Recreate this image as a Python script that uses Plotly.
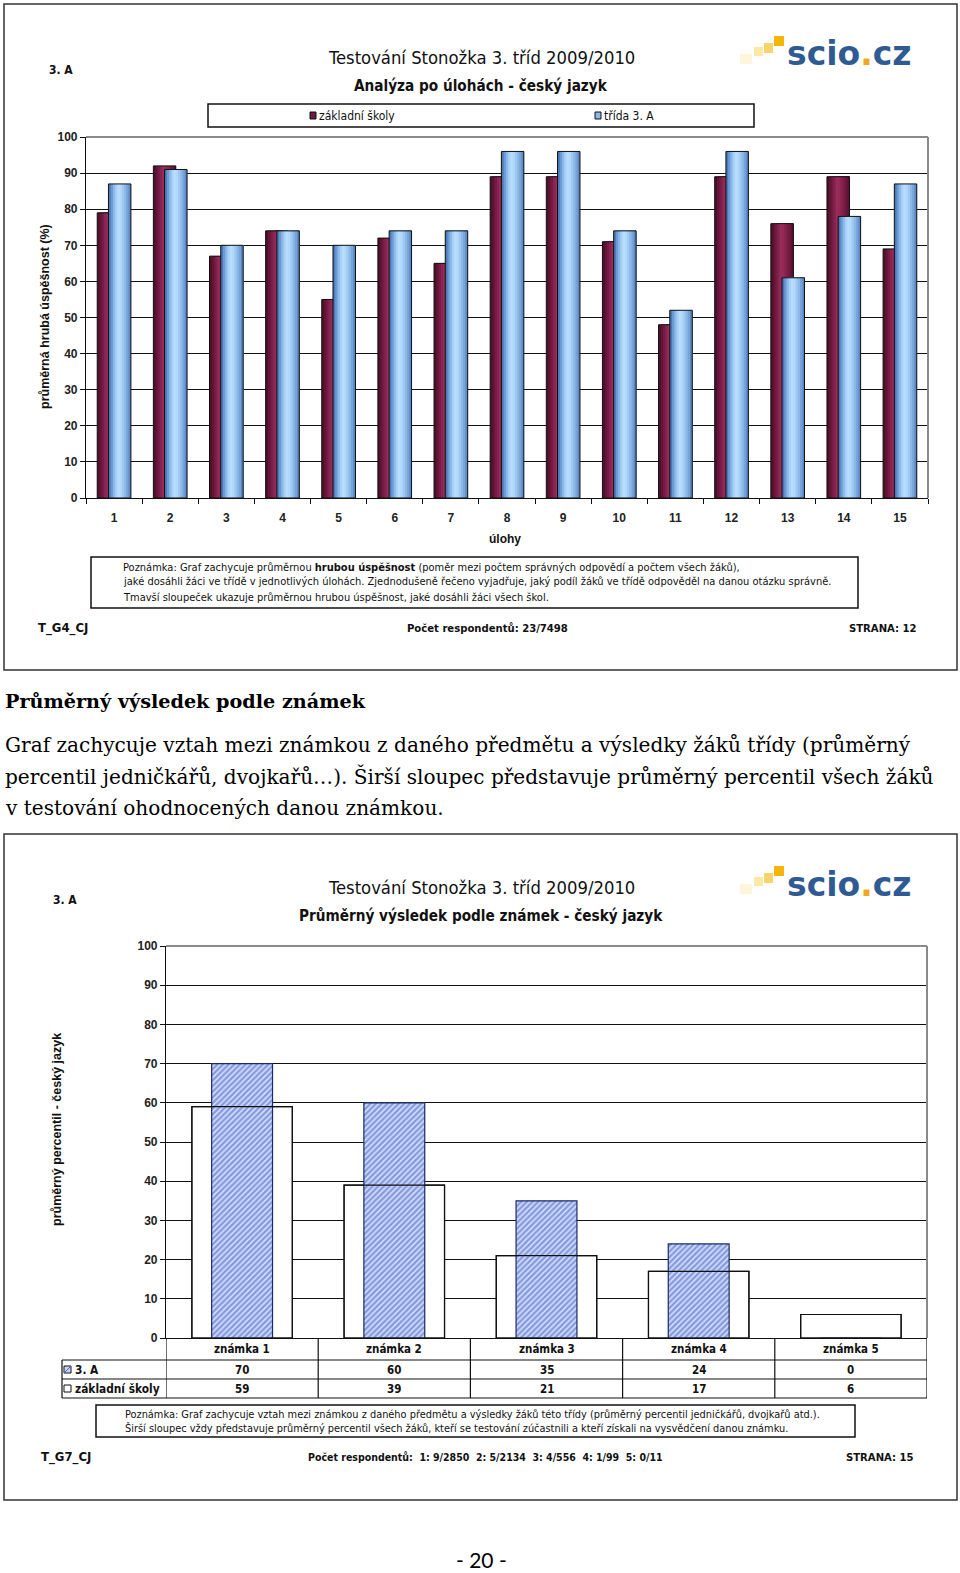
import plotly.graph_objects as go

W, H = 960, 1573


def X(px):
    return px / W


def Y(py):
    return 1 - py / H


# ---------------- data ----------------
tasks = list(range(1, 16))
task_labels = [str(t) for t in tasks]
zakladni_skoly = [79, 92, 67, 74, 55, 72, 65, 89, 89, 71, 48, 89, 76, 89, 69]
trida_3a = [87, 91, 70, 74, 70, 74, 74, 96, 96, 74, 52, 96, 61, 78, 87]
y_ticks = [0, 10, 20, 30, 40, 50, 60, 70, 80, 90, 100]

grades = ["známka 1", "známka 2", "známka 3", "známka 4", "známka 5"]
grade_3a = [70, 60, 35, 24, 0]
grade_zs = [59, 39, 21, 17, 6]
respondents = ["1: 9/2850", "2: 5/2134", "3: 4/556", "4: 1/99", "5: 0/11"]

NARROW = "Liberation Sans Narrow, Arial Narrow, DejaVu Sans Condensed, Liberation Sans"
ARIAL = "Liberation Sans, Arial"
SERIF = "DejaVu Serif"
INK = "#111111"

fig = go.Figure()

# ---------------- chart 1 bars (gradient via layered strips) ----------------
maroon_cols = ["#4e0f2b", "#611537", "#761c44", "#892450", "#982c5a",
               "#952a57", "#88234f", "#7a1d46", "#6b183d", "#5a1334"]
blue_cols = ["#4b79b6", "#6c9bd4", "#8bb9ea", "#a7d1f7", "#b9defd",
             "#b1d8fb", "#a0c9f2", "#8cb7e7", "#77a3d9", "#5c89c4"]


def gradient_bar(vals, base_off, width, cols):
    n = len(cols)
    step = width / n
    for i, c in enumerate(cols):
        fig.add_trace(go.Bar(x=tasks, y=vals, offset=base_off + i * step,
                             width=width - i * step, marker_color=c,
                             marker_line_width=0, xaxis="x", yaxis="y",
                             hoverinfo="skip", showlegend=False))
    fig.add_trace(go.Bar(x=tasks, y=vals, offset=base_off, width=width,
                         marker=dict(color="rgba(0,0,0,0)",
                                     line=dict(color=INK, width=1)),
                         xaxis="x", yaxis="y", showlegend=False))


gradient_bar(zakladni_skoly, -0.3, 0.4, maroon_cols)
gradient_bar(trida_3a, -0.1, 0.4, blue_cols)

# ---------------- chart 2 bars ----------------
fig.add_trace(go.Bar(x=grades, y=grade_zs, width=0.66, offset=-0.33,
                     marker=dict(color="white", line=dict(color=INK, width=1.2)),
                     xaxis="x2", yaxis="y2", showlegend=False))
fig.add_trace(go.Bar(x=grades, y=grade_3a, width=0.40, offset=-0.20,
                     marker=dict(color="#e2e9fb",
                                 line=dict(color="#1d2a66", width=1.2),
                                 pattern=dict(shape="/", fgcolor="#2c4ec6",
                                              size=4, solidity=0.65,
                                              fillmode="overlay")),
                     xaxis="x2", yaxis="y2", showlegend=False))
fig.add_trace(go.Bar(x=grades, y=grade_zs, width=0.66, offset=-0.33,
                     marker=dict(color="rgba(0,0,0,0)",
                                 line=dict(color=INK, width=1.2)),
                     xaxis="x2", yaxis="y2", showlegend=False))

tickfont = dict(family=ARIAL, size=12, color="#222")

fig.update_layout(
    template="none",
    width=W, height=H,
    margin=dict(l=0, r=0, t=0, b=0, pad=0, autoexpand=False),
    paper_bgcolor="white", plot_bgcolor="white",
    barmode="overlay", showlegend=False,
    xaxis=dict(domain=[X(86), X(928)], range=[0.5, 15.5], anchor="y",
               tickvals=tasks, ticktext=[f"<b>{t}</b>" for t in task_labels],
               ticks="", showgrid=False, zeroline=False, automargin=False,
               showline=True, linecolor=INK, linewidth=1.2,
               tickfont=tickfont, ticklabelstandoff=8,
               minor=dict(tick0=0.5, dtick=1, ticks="outside", ticklen=5,
                          tickcolor=INK, tickwidth=1, showgrid=False)),
    yaxis=dict(domain=[Y(498), Y(137)], range=[0, 100], anchor="x",
               tickvals=y_ticks, ticktext=[f"<b>{v}</b>" for v in y_ticks],
               ticks="outside", ticklen=5, tickcolor=INK, automargin=False,
               showgrid=True, gridcolor=INK, gridwidth=1.4,
               zeroline=False, showline=True, linecolor=INK, linewidth=1.2,
               tickfont=tickfont),
    xaxis2=dict(domain=[X(166), X(927)], range=[-0.5, 4.5], anchor="y2",
                type="category", categoryarray=grades, categoryorder="array",
                showticklabels=False, ticks="", showgrid=False, zeroline=False,
                automargin=False,
                showline=True, linecolor=INK, linewidth=1.2),
    yaxis2=dict(domain=[Y(1338), Y(946)], range=[0, 100], anchor="x2",
                tickvals=y_ticks, ticktext=[f"<b>{v}</b>" for v in y_ticks],
                ticks="outside", ticklen=5, tickcolor=INK, automargin=False,
                showgrid=True, gridcolor=INK, gridwidth=1.4,
                zeroline=False, showline=True, linecolor=INK, linewidth=1.2,
                tickfont=tickfont),
)

shapes = []
annotations = []


def rect(x0, y0, x1, y1, color=INK, width=1.5, fill="rgba(0,0,0,0)"):
    shapes.append(dict(type="rect", xref="paper", yref="paper",
                       x0=X(x0), x1=X(x1), y0=Y(y0), y1=Y(y1),
                       line=dict(color=color, width=width), fillcolor=fill,
                       layer="above"))


def line(x0, y0, x1, y1, color=INK, width=1.2):
    shapes.append(dict(type="line", xref="paper", yref="paper",
                       x0=X(x0), x1=X(x1), y0=Y(y0), y1=Y(y1),
                       line=dict(color=color, width=width), layer="above"))


def ann(text, x, y, size, bold=False, xanchor="center", family=NARROW,
        color=INK, angle=0):
    annotations.append(dict(text=f"<b>{text}</b>" if bold else text,
                            x=X(x), y=Y(y), xref="paper", yref="paper",
                            showarrow=False, xanchor=xanchor, yanchor="middle",
                            font=dict(size=size, family=family, color=color),
                            textangle=angle, borderpad=0))


def logo(dy):
    for (x0, y0, x1, y1, c) in [(740, 54, 752, 64, "#fdf6dc"),
                                (754, 47, 763, 56, "#fbe9a8"),
                                (764, 43, 773, 53, "#f9d46a"),
                                (774, 36, 784, 46, "#f6b50a")]:
        shapes.append(dict(type="rect", xref="paper", yref="paper",
                           x0=X(x0), x1=X(x1), y0=Y(y0 + dy), y1=Y(y1 + dy),
                           line=dict(width=0), fillcolor=c, layer="above"))
    annotations.append(dict(
        text='<b><span style="color:#2f5b92">scio</span>'
             '<span style="color:#f0a820">.</span>'
             '<span style="color:#2f5b92">cz</span></b>',
        x=X(785), y=Y(54 + dy), xref="paper", yref="paper", showarrow=False,
        xanchor="left", yanchor="middle",
        font=dict(size=33, family="DejaVu Sans", color="#2f5b92")))


# ---------------- chart 1 frame & texts ----------------
rect(4, 4, 957, 670, color="#333", width=1.5)
ann("3. A", 48, 70, 12, bold=True, xanchor="left")
ann("Testování Stonožka 3. tříd 2009/2010", 481, 57, 18.3)
ann("Analýza po úlohách - český jazyk", 481, 86, 15.2, bold=True)
logo(0)
# legend box
rect(208, 104, 754, 127, width=1.5)
rect(310, 112, 316, 119, width=1, fill="#6e1a40")
ann("základní školy", 318, 116, 12, xanchor="left")
rect(595, 112, 601, 119, width=1, fill="#8ab8e8")
ann("třída 3. A", 603, 116, 12, xanchor="left")
# plot border (grey top/right)
line(86, 137, 928, 137, color="#8a8a8a", width=2)
line(928, 137, 928, 498, color="#8a8a8a", width=2)
ann("průměrná hrubá úspěšnost (%)", 45, 317, 12.5, bold=True, family=ARIAL,
    angle=-90)
ann("úlohy", 505, 539, 12, bold=True, family=ARIAL)
# note box
rect(91, 557, 858, 608, width=1.5)
ann("Poznámka: Graf zachycuje průměrnou <b>hrubou úspěšnost</b> (poměr mezi "
    "počtem správných odpovědí a počtem všech žáků),", 122, 568, 11,
    xanchor="left")
ann("jaké dosáhli žáci ve třídě v jednotlivých úlohách. Zjednodušeně řečeno "
    "vyjadřuje, jaký podíl žáků ve třídě odpověděl na danou otázku správně.",
    122, 582, 11, xanchor="left")
ann("Tmavší sloupeček ukazuje průměrnou hrubou úspěšnost, jaké dosáhli žáci "
    "všech škol.", 122, 597, 11, xanchor="left")
ann("T_G4_CJ", 37, 628, 13, bold=True, xanchor="left")
ann("Počet respondentů: 23/7498", 406, 628, 11.2, bold=True, xanchor="left")
ann("STRANA: 12", 918, 628, 11.2, bold=True, xanchor="right")

# ---------------- page text ----------------
ann("Průměrný výsledek podle známek", 4, 701, 19.2, bold=True, family=SERIF,
    xanchor="left", color="#000")
body = ["Graf zachycuje vztah mezi známkou z daného předmětu a výsledky žáků třídy (průměrný",
        "percentil jedničkářů, dvojkařů…). Širší sloupec představuje průměrný percentil všech žáků",
        "v testování ohodnocených danou známkou."]
for i, t in enumerate(body):
    ann(t, 4, 745 + i * 31.5, 20.1, family=SERIF, xanchor="left", color="#000")

# ---------------- chart 2 frame & texts ----------------
rect(4, 834, 957, 1500, color="#333", width=1.5)
ann("3. A", 52, 900, 12, bold=True, xanchor="left")
ann("Testování Stonožka 3. tříd 2009/2010", 481, 887, 18.3)
ann("Průměrný výsledek podle známek - český jazyk", 481, 916, 15.2, bold=True)
logo(830)
line(166, 946, 927, 946, color="#8a8a8a", width=2)
line(927, 946, 927, 1338, color="#8a8a8a", width=2)
ann("průměrný percentil - český jazyk", 57, 1130, 12.5, bold=True,
    family=ARIAL, angle=-90)

# data table under chart 2
for yy in (1360, 1379, 1398):
    line(62, yy, 927, yy)
line(62, 1360, 62, 1398)
for i in range(len(grades) + 1):
    shapes.append(dict(type="line", xref="x2", yref="paper",
                       x0=i - 0.5, x1=i - 0.5, y0=Y(1338), y1=Y(1398),
                       line=dict(color=INK, width=1.2), layer="above"))
for g, a, z in zip(grades, grade_3a, grade_zs):
    for txt, yy in ((g, 1349), (str(a), 1369.5), (str(z), 1388.5)):
        annotations.append(dict(text=f"<b>{txt}</b>", x=g, y=Y(yy),
                                xref="x2", yref="paper", showarrow=False,
                                xanchor="center", yanchor="middle",
                                font=dict(size=11.5, family=NARROW, color=INK)))
rect(64, 1366, 71, 1373, width=1, fill="#c9d6f4")
line(64, 1373, 71, 1366, color="#3d5fc6", width=1)
ann("3. A", 74, 1369.5, 11.8, bold=True, xanchor="left")
rect(64, 1385, 71, 1392, width=1, fill="white")
ann("základní školy", 74, 1388.5, 11.8, bold=True, xanchor="left")

# note box 2
rect(96, 1405, 855, 1437, width=1.5)
ann("Poznámka: Graf zachycuje vztah mezi známkou z daného předmětu a výsledky "
    "žáků této třídy (průměrný percentil jedničkářů, dvojkařů atd.).",
    124, 1414, 10.9, xanchor="left")
ann("Širší sloupec vždy představuje průměrný percentil všech žáků, kteří se "
    "testování zúčastnili a kteří získali na vysvědčení danou známku.",
    124, 1428, 10.9, xanchor="left")
ann("T_G7_CJ", 40, 1457, 13, bold=True, xanchor="left")
ann("Počet respondentů:  " + "  ".join(respondents), 307, 1457, 10.5,
    bold=True, xanchor="left")
ann("STRANA: 15", 915, 1457, 11.2, bold=True, xanchor="right")

# page number
ann("- 20 -", 481, 1559, 21, family="Lato", color="#000")

fig.update_layout(shapes=shapes, annotations=annotations)
fig.write_html("out.html")
